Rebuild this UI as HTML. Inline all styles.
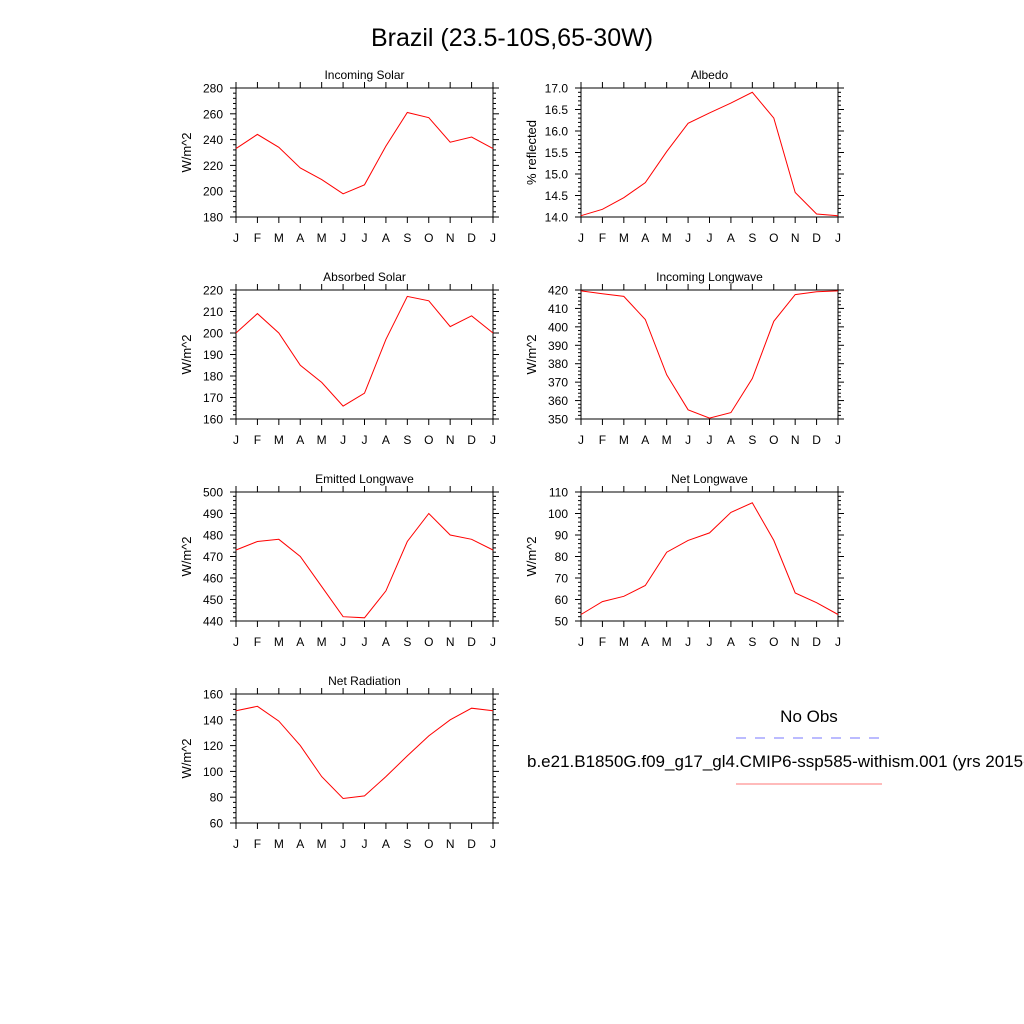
<!DOCTYPE html>
<html><head><meta charset="utf-8"><style>
body{margin:0;background:#fff;font-family:"Liberation Sans",sans-serif;}
svg{display:block}
</style></head><body>
<svg id="c" width="1024" height="1024" viewBox="0 0 1024 1024" font-family="Liberation Sans, sans-serif">
<text x="512" y="46" font-size="25" text-anchor="middle">Brazil (23.5-10S,65-30W)</text>
<g>
<text x="809" y="722" font-size="17" text-anchor="middle">No Obs</text>
<line x1="736" y1="738" x2="882" y2="738" stroke="#7777ff" stroke-width="1" stroke-dasharray="10,9"/>
<text x="527" y="767" font-size="17">b.e21.B1850G.f09_g17_gl4.CMIP6-ssp585-withism.001 (yrs 2015-2100)</text>
<line x1="736" y1="784" x2="882" y2="784" stroke="#ff7777" stroke-width="1"/>
</g>
</svg>
<script>
const months = ["J","F","M","A","M","J","J","A","S","O","N","D","J"];
const incomingSolar = [233,244,234,218,209,198,205,235,261,257,238,242,233];
const albedo = [14.03,14.18,14.45,14.8,15.52,16.18,16.42,16.65,16.9,16.3,14.57,14.07,14.03];
const absorbedSolar = [200,209,200,185,177,166,172,197,217,215,203,208,200];
const incomingLW = [419.5,418,416.5,404,374,355,350.5,353.5,372,403,417.5,419,419.5];
const emittedLW = [473,477,478,470,456,442,441.5,454,477,490,480,478,473];
const netLW = [53,59,61.5,66.5,82,87.5,91,100.5,105,87.5,63,58.5,53];
const netRad = [147,150.5,139,120,96,79,81,96,112,127.5,140,149,147];

const panels = [
 {t:"Incoming Solar",y:"W/m^2",d:incomingSolar,min:180,max:280,step:20,dec:0,x:236,top:88,n:"incoming-solar"},
 {t:"Albedo",y:"% reflected",d:albedo,min:14,max:17,step:0.5,dec:1,x:581,top:88,n:"albedo"},
 {t:"Absorbed Solar",y:"W/m^2",d:absorbedSolar,min:160,max:220,step:10,dec:0,x:236,top:290,n:"absorbed-solar"},
 {t:"Incoming Longwave",y:"W/m^2",d:incomingLW,min:350,max:420,step:10,dec:0,x:581,top:290,n:"incoming-longwave"},
 {t:"Emitted Longwave",y:"W/m^2",d:emittedLW,min:440,max:500,step:10,dec:0,x:236,top:492,n:"emitted-longwave"},
 {t:"Net Longwave",y:"W/m^2",d:netLW,min:50,max:110,step:10,dec:0,x:581,top:492,n:"net-longwave"},
 {t:"Net Radiation",y:"W/m^2",d:netRad,min:60,max:160,step:20,dec:0,x:236,top:694,n:"net-radiation"}
];
const NS="http://www.w3.org/2000/svg";
const svg=document.getElementById('c');
function mk(tag,attrs,parent){const e=document.createElementNS(NS,tag);for(const k in attrs)e.setAttribute(k,attrs[k]);parent.appendChild(e);return e;}
const W=257,H=129;
panels.forEach(p=>{
 const g=mk('g',{},svg);
 
 
 const L=p.x,T=p.top,R=L+W,B=T+H;
 const sx=i=>L+i*W/12, sy=v=>B-(v-p.min)/(p.max-p.min)*H;
 const ttl=mk('text',{x:L+W/2,y:T-9,'font-size':12,'text-anchor':'middle'},g);ttl.textContent=p.t;
 
 
 // x ticks
 months.forEach((m,i)=>{
  const x=sx(i);
  mk('line',{x1:x,y1:B,x2:x,y2:B+6,stroke:'#000'},g);
  mk('line',{x1:x,y1:T,x2:x,y2:T-6,stroke:'#000'},g);
  const tx=mk('text',{x:x,y:B+25,'font-size':12,'text-anchor':'middle'},g);tx.textContent=m;
  
  
 });
 // y ticks
 const nMaj=Math.round((p.max-p.min)/p.step);
 for(let k=0;k<=nMaj;k++){
  const v=p.min+k*p.step,y=sy(v);
  mk('line',{x1:L,y1:y,x2:L-6,y2:y,stroke:'#000'},g);
  mk('line',{x1:R,y1:y,x2:R+6,y2:y,stroke:'#000'},g);
  const ty=mk('text',{x:L-13,y:y+4.5,'font-size':12,'text-anchor':'end'},g);ty.textContent=v.toFixed(p.dec);
  
  
  if(k<nMaj){for(let j=1;j<5;j++){const yy=sy(v+j*p.step/5);
   mk('line',{x1:L,y1:yy,x2:L-3,y2:yy,stroke:'#000'},g);
   mk('line',{x1:R,y1:yy,x2:R+3,y2:yy,stroke:'#000'},g);}}
 }
 const fr=mk('rect',{x:L,y:T,width:W,height:H,fill:'none',stroke:'#000'},g);
 
 
 const yl=mk('text',{x:0,y:0,'font-size':13,'text-anchor':'middle',transform:`translate(${L-45},${T+H/2}) rotate(-90)`},g);yl.textContent=p.y;
 
 
 const pts=p.d.map((v,i)=>sx(i).toFixed(1)+','+sy(v).toFixed(1)).join(' ');
 const ln=mk('polyline',{points:pts,fill:'none',stroke:'#ff0000','stroke-width':1},g);
 
 
});
</script>
</body></html>
